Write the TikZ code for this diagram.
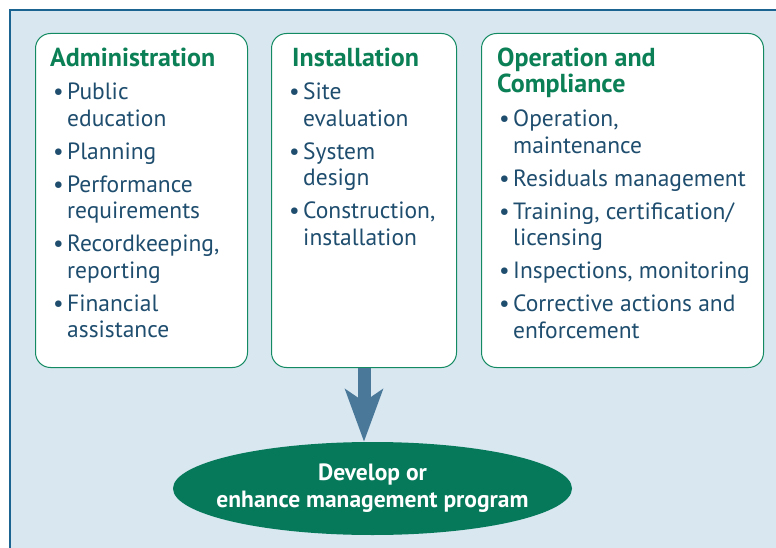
\documentclass[tikz,border=0pt]{standalone}
\usepackage{fontspec}
\setmainfont{PT Sans}
\usetikzlibrary{arrows.meta,shapes.geometric,backgrounds}
\definecolor{bgblue}{HTML}{D9E7F0}
\definecolor{frameblue}{HTML}{1B6390}
\definecolor{boxgreen}{HTML}{138A62}
\definecolor{titlegreen}{HTML}{0B7F55}
\definecolor{bodyblue}{HTML}{1E4D6E}
\definecolor{ellgreen}{HTML}{06795B}
\definecolor{arrowblue}{HTML}{4A7899}
\newcommand\bitem[1]{\par\hangindent=14pt\hangafter=1\noindent\makebox[14pt][l]{\textbullet}#1}
\newcommand\itemlist[2]{\parbox[t]{#1}{\parskip=6.5pt\relax #2}}
\newcommand\softshadow[3]{%
  \foreach \r in {1,...,8}{%
    \fill[black, opacity=0.035, rounded corners=18pt]
      ([shift={(#2-\r,#3-\r)}]#1.north west) rectangle ([shift={(#2+\r,#3+\r)}]#1.south east);}}
\tikzset{
  box/.style={draw=boxgreen, line width=1pt, fill=white, rounded corners=15pt, anchor=north west, inner sep=0pt},
  title/.style={anchor=base west, inner sep=0pt, text=titlegreen, font=\bfseries\fontsize{26}{26}\selectfont, align=left},
  body/.style={anchor=base west, inner sep=0pt, text=bodyblue, font=\fontsize{23.5}{26.5}\selectfont},
  goal/.style={ellipse, fill=ellgreen, text=white, inner xsep=-80pt, inner ysep=0pt, minimum width=399pt, minimum height=93pt,
    align=center, font=\bfseries\fontsize{23.5}{27}\selectfont},
  flow/.style={arrowblue, line width=13pt, -{Stealth[length=52pt, width=37pt, inset=12pt]}}
}
\begin{document}
\begin{tikzpicture}[x=1pt, y=-1pt]
\useasboundingbox (0,0) rectangle (776,548);
\fill[white] (0,0) rectangle (776,548);
\fill[bgblue] (10,10) rectangle (776,548);
\draw[frameblue, line width=2.5pt] (10,548) -- (10,10) -- (776,10);

\node[box, minimum width=212pt, minimum height=334pt] (b1) at (35,33) {};
\node[box, minimum width=185pt, minimum height=334pt] (b2) at (271,33) {};
\node[box, minimum width=282pt, minimum height=334pt] (b3) at (481,33) {};
\node[goal] (ell) at (372.5,488.5) {Develop or\\enhance management program};

\begin{scope}[on background layer]
  \softshadow{b1}{4}{6}
  \softshadow{b2}{4}{6}
  \softshadow{b3}{4}{6}
  \foreach \r in {1,...,8}{%
    \fill[black, opacity=0.035] ([shift={(-2,5)}]ell.center) ellipse ({199.5+\r} and {46.5+\r});}
\end{scope}

\node[title] (t1) at (50,67) {Administration};
\node[title] (t2) at (292,67) {Installation};
\node[title] (t3) at (497,93) {Operation and\\Compliance};

\node[body] (l1) at (53,100) {\itemlist{190pt}{%
  \bitem{Public\newline education}
  \bitem{Planning}
  \bitem{Performance\newline requirements}
  \bitem{Recordkeeping,\newline reporting}
  \bitem{Financial\newline assistance}}};
\node[body] (l2) at (289,100) {\itemlist{162pt}{%
  \bitem{Site\newline evaluation}
  \bitem{System\newline design}
  \bitem{Construction,\newline installation}}};
\node[body] (l3) at (499,127) {\itemlist{262pt}{%
  \bitem{Operation,\newline maintenance}
  \bitem{Residuals management}
  \bitem{Training, certification/\newline licensing}
  \bitem{Inspections, monitoring}
  \bitem{Corrective actions and\newline enforcement}}};

\draw[flow] (b2.south) -- (b2.south |- ell.north);
\end{tikzpicture}
\end{document}
